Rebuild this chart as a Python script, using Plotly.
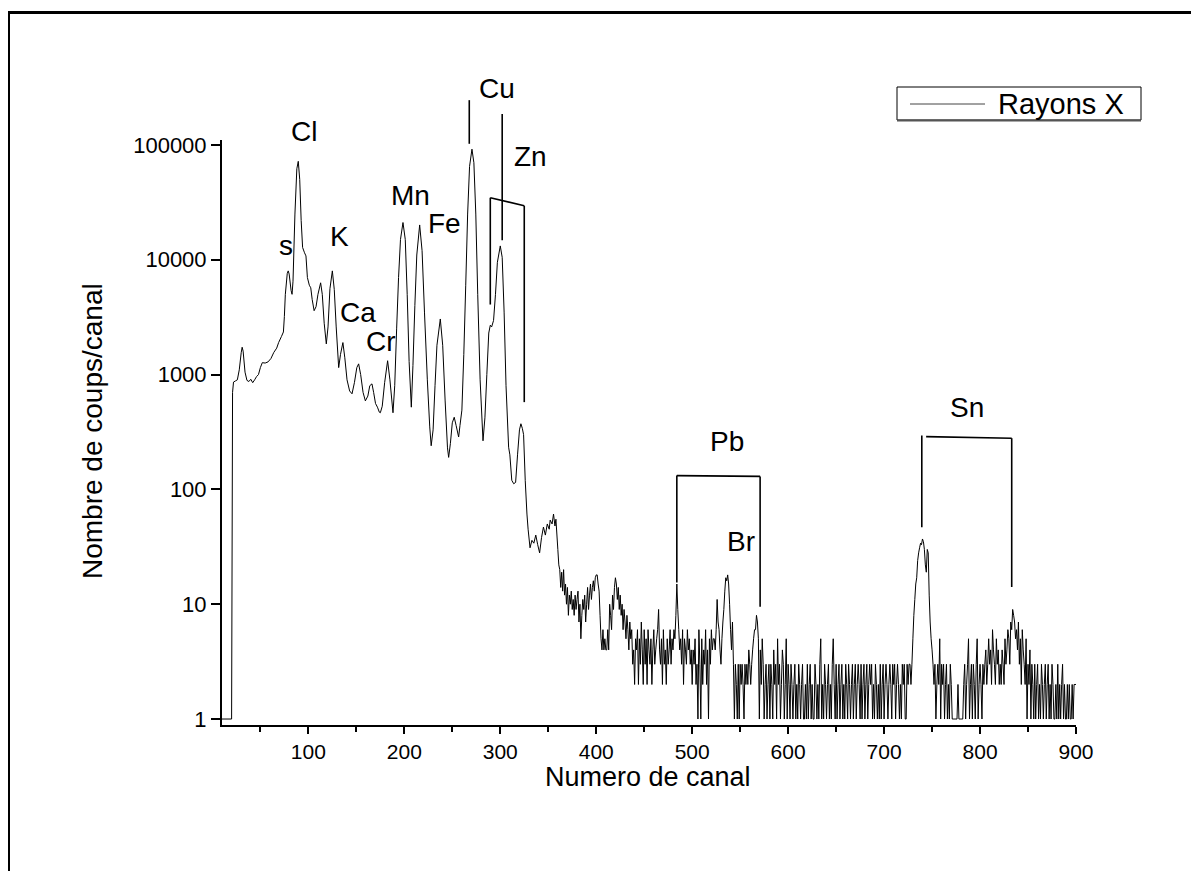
import plotly.graph_objects as go

# ---------------- data ----------------
# smooth (peak) part of the spectrum: channel, counts
channels_peaks = [10, 20, 21, 22, 24, 26, 28, 30, 31, 32, 34, 36, 38, 40, 42, 44, 46, 48, 50, 52, 55, 58,
                  61, 64, 67, 69, 72, 74, 75, 76, 78, 79, 80, 82, 83, 84, 86, 88, 89.5, 91, 92.5, 94, 96,
                  97.5, 99, 101, 102.5, 104, 106, 108, 110, 112.8, 114.5, 116.5, 118.7, 120.5, 122.5, 125,
                  127, 129, 131.6, 133.5, 136, 138, 140.3, 143, 145.5, 148, 150.5, 152.4, 154.5, 157,
                  159.4, 162, 164, 166.3, 168, 170, 172, 174, 175, 177, 179.5, 182.6, 185, 188.2, 190,
                  192, 194, 196, 198.6, 201, 203, 205, 207.3, 209, 211, 213, 216, 218.5, 221, 224, 226.5,
                  228, 230, 232, 234, 237.5, 240, 242.5, 245, 246.2, 248, 250, 252, 254, 256.6, 258, 260,
                  262, 264, 266, 268, 270.5, 272.5, 274.5, 276.5, 279, 282, 284, 286, 288, 289.6, 291,
                  293, 295, 297, 300, 302, 304, 306, 308.7, 310, 312, 314, 316, 318, 320, 321.5, 323,
                  324.3, 326, 327.8, 329, 331, 333, 335, 337, 339, 341, 343, 345, 347, 349, 351, 352,
                  354, 355.5, 357, 358]
counts_peaks = [1, 1, 700, 860, 880, 900, 1100, 1550, 1730, 1600, 1050, 890, 870, 910, 850, 900, 960, 1000,
                1150, 1270, 1260, 1290, 1380, 1560, 1700, 1900, 2150, 2350, 3200, 5000, 7600, 8000, 7500,
                5400, 5000, 6500, 25000, 62000, 72000, 50000, 22000, 12800, 11500, 10800, 7000, 6000,
                5700, 4500, 3600, 3900, 5000, 6300, 5000, 2800, 1850, 2600, 5600, 8000, 5500, 2600, 1150,
                1500, 1900, 1400, 900, 720, 680, 850, 1150, 1240, 1000, 700, 590, 650, 800, 830, 700,
                560, 520, 470, 465, 530, 850, 1320, 900, 465, 800, 2500, 7000, 15000, 21100, 15000,
                5000, 1300, 520, 1200, 4000, 11000, 20100, 12000, 3500, 900, 350, 240, 330, 800, 1800,
                3050, 1800, 600, 230, 190, 250, 380, 425, 360, 286, 360, 490, 1500, 6000, 25000, 65000,
                91800, 70000, 25000, 5000, 900, 265, 420, 1000, 2300, 2690, 2600, 2960, 5000, 9500,
                13200, 10500, 3500, 800, 233, 200, 120, 112, 115, 200, 330, 373, 340, 300, 120, 61, 45,
                31, 36, 34, 40, 33, 28, 38, 47, 40, 50, 45, 54, 50, 61, 48, 55]

# noisy tail, one count per channel, each list starting at the given channel
noise_segments = [
    (360, [30, 22, 20, 14, 19, 13, 20, 12, 15, 10, 14, 8, 12]),
    (373, [10, 13, 9, 11, 8, 12, 9, 11, 13, 7, 10, 5, 8, 11, 9, 12, 7, 10, 14, 9, 12, 15, 11, 14, 16,
           13, 17, 18]),
    (401, [18, 15, 13, 8, 5, 4]),
    (407, [6, 4, 5, 4, 4, 6, 4, 10, 8, 6, 12, 9, 14, 17]),
    (421, [15, 11, 14, 9, 12, 8, 10, 6, 9, 7, 5, 8, 6, 4, 7, 5, 6, 3, 4, 2]),
    (441, [5, 4, 6, 2, 5, 3, 7, 4, 2, 6, 3, 5, 2, 6, 4, 3, 5, 2, 4, 6, 3, 4, 5, 6, 9, 4, 3, 5, 2, 6,
           3, 4, 2, 5, 3, 4, 6, 3, 5, 4]),
    (481, [6, 5, 8, 15, 9, 6, 4, 5, 3, 6, 2, 5, 4, 3, 6, 4, 5, 3, 4, 2]),
    (501, [4, 3, 5, 2, 3, 1, 6, 3, 1, 5, 2, 4, 3, 6, 2, 4, 1, 5, 3, 6, 4, 5, 5, 4, 6]),
    (526, [11, 7, 6, 4, 3, 5, 7, 9, 13, 17, 16, 18, 15, 10, 6, 4, 7, 3, 1, 3]),
    (546, [2, 1, 3, 1, 3, 2, 3, 2, 1, 3, 2, 3, 2, 4, 3, 2, 3, 4, 5, 6, 6, 8, 7, 5, 1, 4, 2, 5, 3, 1,
           2, 3, 1, 2, 3]),
    (581, [1, 3, 2, 1, 4, 2, 3, 1, 5, 2, 3, 1, 2, 4, 3, 1, 2, 5, 1, 3, 2, 1, 3, 2, 1, 2, 3, 1, 2, 1]),
    (611, [3, 2, 1, 2, 3, 1, 1, 2, 1, 3, 1, 2, 3, 1, 2, 1, 1, 3, 2, 1, 2, 1, 3, 5, 1, 2, 1, 3, 2, 1]),
    (641, [2, 3, 1, 2, 1, 3, 5, 2, 1, 3, 1, 2, 3, 1, 2, 3, 1, 2, 1, 3, 2, 1, 3, 2, 1, 2, 3, 1, 2, 3]),
    (671, [1, 2, 3, 2, 1, 3, 1, 2, 3, 1, 2, 3, 1, 2, 3, 2, 3, 1, 2, 1, 3, 2, 1, 2, 1, 3, 1, 2, 3, 1]),
    (701, [2, 3, 2, 1, 2, 3, 2, 1, 3, 2, 3, 1, 2, 3, 2, 1, 2, 1, 3, 2, 3, 1, 1, 3, 2, 3, 3]),
    (728, [2, 3, 5, 8, 11, 15, 17, 24, 28, 31, 34, 33, 37, 35, 30, 22, 19, 30, 28, 12, 7, 5, 4, 3, 2,
           3, 1, 2]),
    (756, [3, 2, 5, 1, 3, 2, 3, 1, 2, 3, 1, 2, 1, 3, 2, 1, 1, 1, 1, 1, 1, 2, 1, 1, 1, 1, 1, 2, 3, 1]),
    (786, [2, 3, 5, 1, 2, 3, 1, 3, 2, 1, 3, 5, 1, 2, 3, 2, 1, 3, 2, 3, 4, 2, 3, 5, 3, 4, 2, 6, 4, 3,
           2, 5, 3, 4, 2]),
    (821, [3, 2, 4, 3, 2, 5, 3, 4, 6, 5, 3, 7, 6, 9, 8, 7, 5, 6, 4, 7, 3, 5, 2, 6, 4]),
    (846, [3, 2, 5, 1, 3, 2, 4, 1, 3, 2, 1, 3, 1, 2, 3, 1, 2, 1, 3, 2, 1, 2, 3, 1, 2, 3, 1, 2, 1, 3,
           2, 1, 1, 2, 1, 3, 1, 2, 1, 2, 3, 1, 2, 1, 1, 2, 1, 2, 1, 1, 2, 1, 2, 2, 2]),
]

series_name = "Rayons X"
element_labels = ["s", "Cl", "K", "Ca", "Cr", "Mn", "Fe", "Cu", "Zn", "Pb", "Br", "Sn"]
label_channels = [77, 95, 132, 152, 176, 206, 241.5, 297, 331, 536, 551, 786.5]
label_log_counts = [4.12, 5.12, 4.20, 3.54, 3.29, 4.56, 4.32, 5.49, 4.90, 2.42, 1.55, 2.71]

# marker lines / brackets (channel, log10 counts)
marker_lines = [
    ([267.7, 267.7], [5.39, 5.01]),                        # Cu
    ([302, 302], [5.27, 4.17]),                            # Zn
    ([289.6, 289.6, 325, 325], [3.61, 4.54, 4.47, 2.76]),  # Zn bracket
    ([484, 484, 570.8, 570.8], [1.19, 2.12, 2.113, 0.977]),  # Pb
    ([739.3, 739.3], [1.67, 2.47]),                        # Sn left
    ([743.8, 833, 833], [2.46, 2.446, 1.15]),              # Sn bracket
]
x_range = [10, 900]
y_log_range = [-0.052, 5.043]
x_tick_values = [100, 200, 300, 400, 500, 600, 700, 800, 900]
y_tick_values = [1, 10, 100, 1000, 10000, 100000]
y_tick_labels = ["1", "10", "100", "1000", "10000", "100000"]
x_title = "Numero de canal"
y_title = "Nombre de coups/canal"

# ---------------- build ----------------
xs = list(channels_peaks)
ys = list(counts_peaks)
for start, vals in noise_segments:
    for i, v in enumerate(vals):
        xs.append(start + i)
        ys.append(v)
pairs = sorted(zip(xs, ys), key=lambda p: p[0])
xs = [p[0] for p in pairs]
ys = [p[1] for p in pairs]

FONT = "Liberation Sans, Arial, Helvetica, sans-serif"

# layout geometry (figure pixels)
L, T, R, Bm = 214, 132, 131, 154
W = 1199 - L - R
H = 871 - T - Bm


def fx(x):  # figure pixel -> paper x
    return (x - L) / W


def fy(y):  # figure pixel -> paper y
    return (871 - Bm - y) / H


def dx(ch):  # channel -> paper x (linear axis)
    return (ch - x_range[0]) / (x_range[1] - x_range[0])


def dy(lg):  # log10 count -> paper y (log axis)
    return (lg - y_log_range[0]) / (y_log_range[1] - y_log_range[0])


fig = go.Figure()
fig.add_trace(go.Scatter(x=xs, y=ys, mode="lines", name=series_name, showlegend=False,
                         line=dict(color="black", width=1, simplify=False), hoverinfo="skip"))

for lx, ly in marker_lines:
    for i in range(len(lx) - 1):
        fig.add_shape(type="line", xref="paper", yref="paper",
                      x0=dx(lx[i]), x1=dx(lx[i + 1]), y0=dy(ly[i]), y1=dy(ly[i + 1]),
                      line=dict(color="black", width=1.6), layer="above")

for t, cx, cy in zip(element_labels, label_channels, label_log_counts):
    fig.add_annotation(x=cx, y=dy(cy), xref="x", yref="paper", text=t, showarrow=False,
                       font=dict(family=FONT, size=28, color="black"),
                       xanchor="center", yanchor="middle")

# axis titles
fig.add_annotation(x=fx(640), y=fy(769), xref="paper", yref="paper", text=x_title,
                   showarrow=False, font=dict(family=FONT, size=27, color="black"),
                   xanchor="center", yanchor="middle")
fig.add_annotation(x=fx(84), y=fy(423), xref="paper", yref="paper", text=y_title,
                   showarrow=False, textangle=-90, font=dict(family=FONT, size=28, color="black"),
                   xanchor="center", yanchor="middle")

# legend box (drawn)
fig.add_shape(type="rect", xref="paper", yref="paper",
              x0=fx(889), x1=fx(1133), y0=fy(112), y1=fy(79),
              line=dict(color="black", width=1), fillcolor="white", layer="above")
fig.add_shape(type="line", xref="paper", yref="paper",
              x0=fx(889), x1=fx(1133), y0=fy(112.5), y1=fy(112.5),
              line=dict(color="#555555", width=2), layer="above")
fig.add_shape(type="line", xref="paper", yref="paper",
              x0=fx(902), x1=fx(977), y0=fy(96), y1=fy(96),
              line=dict(color="#444444", width=1), layer="above")
fig.add_annotation(x=fx(988), y=fy(96), xref="paper", yref="paper", text=series_name,
                   showarrow=False, font=dict(family=FONT, size=29, color="black"),
                   xanchor="left", yanchor="middle")

# outer frame
fig.add_shape(type="rect", xref="paper", yref="paper",
              x0=fx(0.5), x1=fx(1186), y0=fy(890), y1=fy(4.5),
              line=dict(color="black", width=3), fillcolor="rgba(0,0,0,0)", layer="above")

fig.update_layout(
    width=1199, height=871,
    margin=dict(l=L, r=R, t=T, b=Bm, autoexpand=False),
    paper_bgcolor="white", plot_bgcolor="white",
    font=dict(family=FONT, color="black", size=21),
    showlegend=False,
    xaxis=dict(range=x_range, showgrid=False, zeroline=False,
               showline=True, linecolor="black", linewidth=2,
               ticks="outside", ticklen=7, tickwidth=2, tickcolor="black",
               tickvals=x_tick_values, tickfont=dict(family=FONT, size=21),
               minor=dict(dtick=50, tick0=50, ticks="outside", ticklen=5, tickwidth=2, tickcolor="black")),
    yaxis=dict(type="log", range=y_log_range, showgrid=False, zeroline=False,
               showline=True, linecolor="black", linewidth=2,
               ticks="outside", ticklen=9, tickwidth=2, tickcolor="black",
               tickvals=y_tick_values, ticktext=y_tick_labels,
               tickfont=dict(family=FONT, size=22)),
)

fig.write_html("out.html")
